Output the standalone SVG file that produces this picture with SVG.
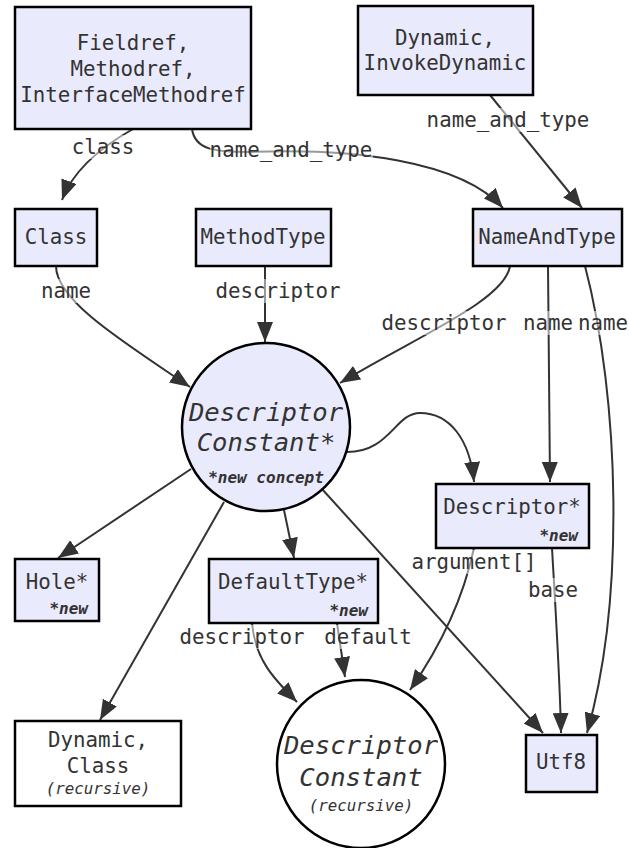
<svg xmlns="http://www.w3.org/2000/svg" width="629" height="848" viewBox="0 0 629 848">
<style>
text{font-family:"DejaVu Sans Mono","Liberation Mono",monospace;fill:#333;}
.n{font-size:20.8px;text-anchor:middle;dominant-baseline:central;}
.big{font-size:25.6px;font-style:italic;text-anchor:middle;dominant-baseline:central;}
.new{font-size:16px;font-style:italic;font-weight:bold;text-anchor:end;dominant-baseline:central;}
.rec{font-size:15.8px;font-style:italic;text-anchor:middle;dominant-baseline:central;}
.box{fill:#eaeafd;stroke:#000;stroke-width:2.5;}
.wbox{fill:#fff;stroke:#000;stroke-width:2.5;}
.e{fill:none;stroke:#333;stroke-width:2;marker-end:url(#a);}
.lb{fill:#fff;fill-opacity:0.5;}
.lt{font-size:20.8px;text-anchor:middle;dominant-baseline:central;}
</style>
<defs>
<marker id="a" markerWidth="20" markerHeight="16" refX="20" refY="8" orient="auto" markerUnits="userSpaceOnUse"><path d="M0,0 L20,8 L0,16 z" fill="#333"/></marker>
</defs>
<rect width="629" height="848" fill="#fff"/>
<g id="edges">
<path class="e" d="M133,129 C110,142 75,165 62,200"/>
<path class="e" d="M192,129 C195,150 215,152 250,152 C350,148 460,160 503,208"/>
<path class="e" d="M490,95 L582,208"/>
<path class="e" d="M56,266 C56,300 120,340 190,387"/>
<path class="e" d="M265,266 L265,342"/>
<path class="e" d="M510,266 C505,300 420,335 340,383"/>
<path class="e" d="M548,266 L550,482"/>
<path class="e" d="M585,266 C620,400 625,600 587,733"/>
<path class="e" d="M347,452 C390,452 395,413 420,413 C450,413 470,440 474,482"/>
<path class="e" d="M191,469 L58,558"/>
<path class="e" d="M284,510 L294,558"/>
<path class="e" d="M224,502 L100,720"/>
<path class="e" d="M322,489 L543,733"/>
<path class="e" d="M552,548 C555,600 560,680 561,733"/>
<path class="e" d="M474,548 C465,590 445,640 410,690"/>
<path class="e" d="M252,623 C255,660 275,680 297,702"/>
<path class="e" d="M337,623 L345,677"/>
</g>
<g id="edge-labels">
<rect class="lb" x="72" y="135" width="63" height="24"/><text class="lt" x="103" y="147">class</text>
<rect class="lb" x="210" y="138" width="163" height="24"/><text class="lt" x="291" y="150">name_and_type</text>
<rect class="lb" x="427" y="108" width="163" height="24"/><text class="lt" x="508" y="120">name_and_type</text>
<rect class="lb" x="41" y="279" width="50" height="24"/><text class="lt" x="66" y="291">name</text>
<rect class="lb" x="216" y="279" width="125" height="24"/><text class="lt" x="278" y="291">descriptor</text>
<rect class="lb" x="382" y="311" width="125" height="24"/><text class="lt" x="444" y="323">descriptor</text>
<rect class="lb" x="523" y="311" width="50" height="24"/><text class="lt" x="548" y="323">name</text>
<rect class="lb" x="578" y="311" width="50" height="24"/><text class="lt" x="603" y="323">name</text>
<rect class="lb" x="412" y="550" width="125" height="24"/><text class="lt" x="474" y="562">argument[]</text>
<rect class="lb" x="528" y="578" width="50" height="24"/><text class="lt" x="553" y="590">base</text>
<rect class="lb" x="180" y="625" width="125" height="24"/><text class="lt" x="242" y="637">descriptor</text>
<rect class="lb" x="324" y="625" width="88" height="24"/><text class="lt" x="368" y="637">default</text>
</g>
<g id="fieldref">
<rect class="box" x="15" y="7" width="236" height="122"/>
<text class="n" x="133" y="43">Fieldref,</text>
<text class="n" x="133" y="69">Methodref,</text>
<text class="n" x="133" y="95">InterfaceMethodref</text>
</g>
<g id="dynamic">
<rect class="box" x="358" y="6" width="175" height="89"/>
<text class="n" x="445" y="38">Dynamic,</text>
<text class="n" x="445" y="63">InvokeDynamic</text>
</g>
<g id="class">
<rect class="box" x="15" y="209" width="82" height="57"/>
<text class="n" x="56" y="237">Class</text>
</g>
<g id="methodtype">
<rect class="box" x="196" y="209" width="135" height="57"/>
<text class="n" x="263" y="237">MethodType</text>
</g>
<g id="nameandtype">
<rect class="box" x="473" y="209" width="149" height="57"/>
<text class="n" x="547" y="237">NameAndType</text>
</g>
<g id="descconst">
<circle cx="266" cy="427" r="84" fill="#eaeafd" stroke="#000" stroke-width="2.5"/>
<text class="big" x="266" y="412">Descriptor</text>
<text class="big" x="266" y="442">Constant*</text>
<text class="new" x="266" y="477" style="text-anchor:middle">*new concept</text>
</g>
<g id="descriptor">
<rect class="box" x="436" y="484" width="153" height="64"/>
<text class="n" x="512" y="507">Descriptor*</text>
<text class="new" x="578" y="535">*new</text>
</g>
<g id="hole">
<rect class="box" x="15" y="559" width="84" height="62"/>
<text class="n" x="57" y="582">Hole*</text>
<text class="new" x="88" y="608">*new</text>
</g>
<g id="defaulttype">
<rect class="box" x="209" y="559" width="169" height="64"/>
<text class="n" x="293" y="582">DefaultType*</text>
<text class="new" x="368" y="610">*new</text>
</g>
<g id="dynclass">
<rect class="wbox" x="15" y="721" width="166" height="85"/>
<text class="n" x="98" y="740">Dynamic,</text>
<text class="n" x="98" y="766">Class</text>
<text class="rec" x="98" y="788">(recursive)</text>
</g>
<g id="descconst2">
<circle cx="361" cy="764" r="84" fill="#fff" stroke="#000" stroke-width="2.5"/>
<text class="big" x="361" y="745">Descriptor</text>
<text class="big" x="361" y="777">Constant</text>
<text class="rec" x="361" y="805">(recursive)</text>
</g>
<g id="utf8">
<rect class="box" x="526" y="735" width="71" height="57"/>
<text class="n" x="561" y="762">Utf8</text>
</g>
</svg>
